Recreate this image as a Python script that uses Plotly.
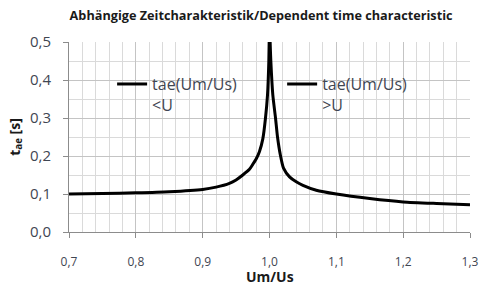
import plotly.graph_objects as go

# Left branch (Um/Us < 1)
x_lower = [0.70, 0.75, 0.80, 0.85, 0.90, 0.92, 0.94, 0.95, 0.96, 0.97, 0.975, 0.98, 0.985, 0.99, 0.994, 0.997, 0.999, 1.0]
t_lower = [0.100, 0.101, 0.103, 0.106, 0.112, 0.118, 0.128, 0.137, 0.150, 0.165, 0.178, 0.192, 0.212, 0.245, 0.30, 0.36, 0.45, 0.55]

# Right branch (Um/Us > 1)
x_upper = [1.0, 1.002, 1.005, 1.009, 1.012, 1.016, 1.021, 1.03, 1.04, 1.05, 1.07, 1.10, 1.15, 1.20, 1.25, 1.30]
t_upper = [0.55, 0.45, 0.36, 0.30, 0.25, 0.205, 0.168, 0.145, 0.132, 0.123, 0.110, 0.100, 0.088, 0.079, 0.075, 0.072]

name_lower = "tae(Um/Us)<br>&lt;U"
name_upper = "tae(Um/Us)<br>&gt;U"

title_text = "Abhängige Zeitcharakteristik/Dependent time characteristic"
x_title = "Um/Us"
y_title = "t<sub>ae</sub> [s]"

FONT = "Open Sans"
TXT = "#3f4652"

fig = go.Figure()
fig.add_trace(go.Scatter(x=x_lower, y=t_lower, mode="lines", name=name_lower,
                         line=dict(color="black", width=3, shape="spline", smoothing=0.6),
                         legend="legend"))
fig.add_trace(go.Scatter(x=x_upper, y=t_upper, mode="lines", name=name_upper,
                         line=dict(color="black", width=3, shape="spline", smoothing=0.6),
                         legend="legend2"))

grid_major = "#c4c4c4"
grid_minor = "#dadada"

fig.update_layout(
    width=480, height=284,
    margin=dict(l=69, r=10, t=42, b=52, autoexpand=False),
    paper_bgcolor="white", plot_bgcolor="white",
    separators=",.",
    font=dict(family=FONT, color=TXT, size=13),
    title=dict(text="<b>" + title_text + "</b>", x=0.479, xref="paper", xanchor="center",
               y=0.946, yanchor="middle", font=dict(size=12.7, color="#1a1a1a", family=FONT)),
    xaxis=dict(range=[0.7, 1.3], dtick=0.1, tick0=0.7, tickformat=".1f",
               automargin=False,
               showgrid=True, gridcolor=grid_major, gridwidth=1,
               minor=dict(dtick=0.02, showgrid=True, gridcolor=grid_minor, gridwidth=1),
               showline=True, linecolor="#8c8c8c", linewidth=1,
               ticks="outside", ticklen=5, tickcolor="#8c8c8c",
               ticklabelstandoff=14, zeroline=False,
               tickfont=dict(size=12, color=TXT)),
    yaxis=dict(range=[0, 0.5], dtick=0.1, tick0=0, tickformat=".1f",
               automargin=False,
               showgrid=True, gridcolor=grid_major, gridwidth=1,
               minor=dict(dtick=0.05, showgrid=True, gridcolor=grid_minor, gridwidth=1),
               showline=True, linecolor="#8c8c8c", linewidth=1,
               ticks="outside", ticklen=5, tickcolor="#8c8c8c",
               ticklabelstandoff=9, zeroline=False,
               tickfont=dict(size=15, color=TXT),
               title=dict(text="<b>" + y_title + "</b>", standoff=6,
                          font=dict(size=14, color="#1a1a1a"))),
    legend=dict(x=0.1075, y=0.868, xanchor="left", yanchor="top", valign="top",
                bgcolor="rgba(0,0,0,0)", font=dict(size=16, color=TXT)),
    legend2=dict(x=0.5315, y=0.868, xanchor="left", yanchor="top", valign="top",
                 bgcolor="rgba(0,0,0,0)", font=dict(size=16, color=TXT)),
    showlegend=True,
    annotations=[dict(text="<b>" + x_title + "</b>", xref="paper", yref="paper",
                      x=0.5, y=-0.233, xanchor="center", yanchor="middle",
                      showarrow=False, font=dict(size=14, color="#1a1a1a", family=FONT))],
)

fig.write_html("out.html", config={"displayModeBar": False},
               post_script="document.body.style.margin='0';")
